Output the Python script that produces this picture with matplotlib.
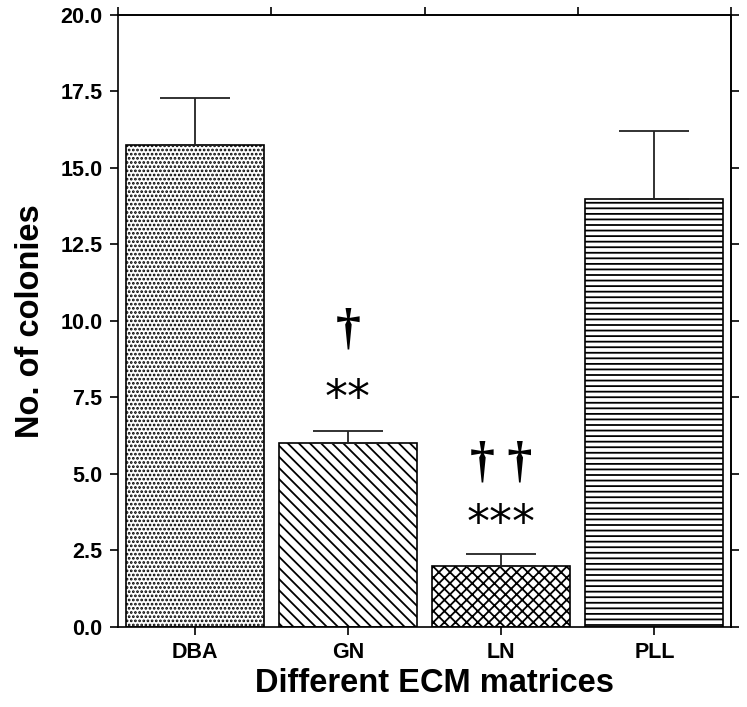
import numpy as np
import matplotlib
matplotlib.use("Agg")
import matplotlib.pyplot as plt

# colony counts on each extracellular matrix
matrices = ["DBA", "GN", "LN", "PLL"]
colonies = [15.75, 6.0, 2.0, 14.0]
colonies_err = [1.55, 0.4, 0.4, 2.2]
hatches = ["....", "\\\\\\", "xxx", "---"]

# significance marks above GN and LN
dagger_marks = ["\u2020", "\u2020 \u2020"]
dagger_y = [9.7, 5.35]
star_marks = ["**", "***"]
star_y = [7.45, 3.35]
marked_bars = [1, 2]

plt.rcParams["font.family"] = ["Liberation Sans", "DejaVu Sans"]
plt.rcParams["hatch.linewidth"] = 1.3


def plot_colonies():
    fig = plt.figure(figsize=(7.47, 7.07), dpi=100)
    ax = fig.add_axes([0.158, 0.1132, 0.8206, 0.8656])

    x = np.arange(len(matrices))
    ax.bar(x, colonies, width=0.9, color="white", edgecolor="black",
           linewidth=1.2, hatch=hatches, zorder=2)

    ax.errorbar(x, colonies, yerr=[np.zeros(len(x)), colonies_err],
                fmt="none", ecolor="#222222", elinewidth=1.3,
                capsize=25, capthick=1.3, zorder=3)

    for i, d, dy, s, sy in zip(marked_bars, dagger_marks, dagger_y,
                               star_marks, star_y):
        ax.text(i, dy, d, ha="center", va="center", fontsize=36,
                fontweight="bold", family=["Liberation Serif", "DejaVu Serif"])
        ax.text(i, sy, s, ha="center", va="center", fontsize=33,
                family=["DejaVu Sans"])

    ax.set_xlim(-0.5, 3.5)
    ax.set_ylim(0, 20)
    ax.set_yticks(np.arange(0, 20.1, 2.5))
    ax.set_yticklabels([f"{v:.1f}" for v in np.arange(0, 20.1, 2.5)])
    ax.set_xticks(x)
    ax.set_xticklabels(matrices)

    # top and right axes carry outward ticks only
    top = ax.secondary_xaxis("top")
    top.set_xticks(np.arange(-0.5, 3.6, 1.0))
    top.tick_params(direction="out", length=6, width=1.2, labeltop=False)
    right = ax.secondary_yaxis("right")
    right.set_yticks(np.arange(0, 20.1, 2.5))
    right.tick_params(direction="out", length=6, width=1.2, labelright=False)
    for sec in (top, right):
        for sp in sec.spines.values():
            sp.set_linewidth(1.2)

    ax.tick_params(direction="out", length=6, width=1.2, labelsize=15.5, pad=5)
    for lab in ax.get_xticklabels() + ax.get_yticklabels():
        lab.set_fontweight("bold")
    for sp in ax.spines.values():
        sp.set_linewidth(1.2)

    ax.set_xlabel("Different ECM matrices", fontsize=23.5, fontweight="bold",
                  va="center")
    ax.xaxis.set_label_coords(0.517, -0.093)
    ax.set_ylabel("No. of colonies", fontsize=23.5, fontweight="bold",
                  va="center")
    ax.yaxis.set_label_coords(-0.143, 0.5)

    fig.savefig("out.png", dpi=100)


if __name__ == "__main__":
    plot_colonies()
